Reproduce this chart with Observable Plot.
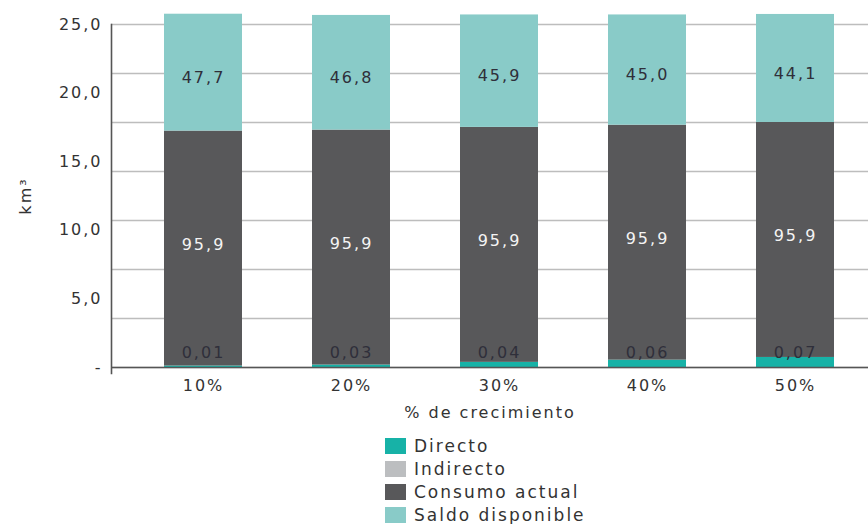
<!DOCTYPE html>
<html><head><meta charset="utf-8">
<script src="https://cdn.jsdelivr.net/npm/d3@7"></script>
<script src="https://cdn.jsdelivr.net/npm/@observablehq/plot@0.6"></script>
<style>
body{margin:0;background:#fff;font-family:"DejaVu Sans",sans-serif;}
#chart{width:868px;}
.legend{margin-left:385px;margin-top:14px;}
.legend .row{display:flex;align-items:center;height:23px;font-size:17px;letter-spacing:2px;color:#333;}
.legend .sw{width:21px;height:16px;margin-right:8px;flex:none;}
</style></head><body><div id="chart"></div>
<script>
const categories = ["10%","20%","30%","40%","50%"];
const series = ["Directo","Indirecto","Consumo actual","Saldo disponible"];
const colors = ["#17b2a7","#bcbec0","#58585a","#89cbc8"];
const directo = [0.6, 1.0, 2.1, 3.0, 4.1];          // drawn heights
const directoLabels = [0.01, 0.03, 0.04, 0.06, 0.07]; // printed values
const indirecto = [0, 0, 0, 0, 0];
const consumo = [95.9, 95.9, 95.9, 95.9, 95.9];
const saldo = [47.7, 46.8, 45.9, 45.0, 44.1];
const yGrid = [0, 20, 40, 60, 80, 100, 120, 140];
const yMax = 140;
const kmMax = 25;
const yTickKm = [0, 5, 10, 15, 20, 25];
const yTickLabels = ["-", "5,0", "10,0", "15,0", "20,0", "25,0"];

const fmt1 = v => d3.format(".1f")(v).replace(".", ",");
const fmt2 = v => d3.format(".2f")(v).replace(".", ",");
const rows = [];
categories.forEach((c, i) => {
  rows.push({crec: c, serie: "Directo", value: directo[i], label: fmt2(directoLabels[i])});
  rows.push({crec: c, serie: "Indirecto", value: indirecto[i], label: ""});
  rows.push({crec: c, serie: "Consumo actual", value: consumo[i], label: fmt1(consumo[i])});
  rows.push({crec: c, serie: "Saldo disponible", value: saldo[i], label: fmt1(saldo[i])});
});
const stackOpts = {x: "crec", y: "value", z: "serie", order: series, text: "label"};

const plot = Plot.plot({
  width: 868, height: 420,
  marginLeft: 111, marginRight: 0, marginTop: 24, marginBottom: 53,
  style: {fontFamily: "DejaVu Sans", fontSize: "16px", color: "#333", background: "#fff", letterSpacing: "2px", overflow: "visible"},
  x: {domain: categories, range: [111, 887], paddingInner: 0.47, paddingOuter: 0.34, label: null},
  y: {domain: [0, yMax], label: null},
  color: {domain: series, range: colors},
  marks: [
    Plot.ruleY(yGrid, {stroke: "#bdbdbd", strokeWidth: 1.3}),
    Plot.barY(rows, {x: "crec", y: "value", fill: "serie", order: series}),
    Plot.text(rows, Plot.filter(d => d.serie === "Saldo disponible", Plot.stackY({...stackOpts, fill: "#2f2f3a", dy: 5, fontSize: 16}))),
    Plot.text(rows, Plot.filter(d => d.serie === "Consumo actual", Plot.stackY({...stackOpts, fill: "#f4f4f4", dy: -4, fontSize: 16}))),
    Plot.text(rows.filter(d => d.serie === "Directo"), {x: "crec", text: "label", frameAnchor: "bottom", dy: -10, fill: "#2f2f3a", fontSize: 16}),
    Plot.ruleY([0], {stroke: "#555", strokeWidth: 1.6}),
    Plot.frame({anchor: "left", stroke: "#555", strokeWidth: 1.6, insetBottom: -6}),
    Plot.axisY(yTickKm.map(k => k * yMax / kmMax), {
      tickSize: 0, tickPadding: 9, fontSize: 16,
      tickFormat: (d, i) => yTickLabels[i],
      label: "km³", labelArrow: "none", labelAnchor: "center", labelOffset: 92
    }),
    Plot.axisX({tickSize: 0, tickPadding: 12, fontSize: 16, label: "% de crecimiento", labelArrow: "none", labelAnchor: "center", labelOffset: 50})
  ]
});
document.getElementById("chart").appendChild(plot);

const legend = document.createElement("div");
legend.className = "legend";
series.forEach((s, i) => {
  const row = document.createElement("div");
  row.className = "row";
  const sw = document.createElement("span");
  sw.className = "sw";
  sw.style.background = colors[i];
  const t = document.createElement("span");
  t.textContent = s;
  row.appendChild(sw); row.appendChild(t);
  legend.appendChild(row);
});
document.getElementById("chart").appendChild(legend);
</script></body></html>
